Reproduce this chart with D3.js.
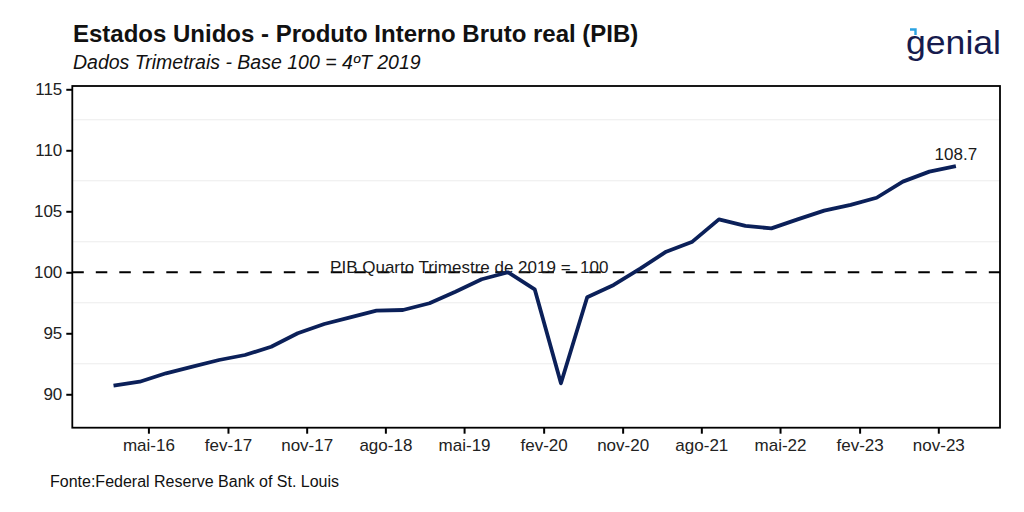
<!DOCTYPE html>
<html>
<head>
<meta charset="utf-8">
<script src="https://cdn.jsdelivr.net/npm/d3@7"></script>
<style>
  html, body { margin: 0; padding: 0; background: #ffffff; }
  svg { display: block; }
  text { font-family: "Liberation Sans", Arial, sans-serif; white-space: pre; }
</style>
</head>
<body>
<svg id="chart" width="1024" height="512"></svg>
<script>
// ---- Data (quarterly, base 100 = Q4 2019) ----
const quarters = [
  "2016-01-01","2016-04-01","2016-07-01","2016-10-01",
  "2017-01-01","2017-04-01","2017-07-01","2017-10-01",
  "2018-01-01","2018-04-01","2018-07-01","2018-10-01",
  "2019-01-01","2019-04-01","2019-07-01","2019-10-01",
  "2020-01-01","2020-04-01","2020-07-01","2020-10-01",
  "2021-01-01","2021-04-01","2021-07-01","2021-10-01",
  "2022-01-01","2022-04-01","2022-07-01","2022-10-01",
  "2023-01-01","2023-04-01","2023-07-01","2023-10-01",
  "2024-01-01"
];
const gdpIndex = [
  90.70, 91.03, 91.72, 92.26,
  92.81, 93.22, 93.90, 95.00,
  95.76, 96.31, 96.85, 96.91,
  97.46, 98.41, 99.43, 100.00,
  98.60, 90.90, 97.95, 98.96,
  100.30, 101.69, 102.51, 104.34,
  103.80, 103.60, 104.34, 105.05,
  105.52, 106.11, 107.43, 108.25,
  108.71
];
const xTickDates = [
  "2016-05-01","2017-02-01","2017-11-01","2018-08-01","2019-05-01","2020-02-01",
  "2020-11-01","2021-08-01","2022-05-01","2023-02-01","2023-11-01"
];
const xTickLabels = [
  "mai-16","fev-17","nov-17","ago-18","mai-19","fev-20",
  "nov-20","ago-21","mai-22","fev-23","nov-23"
];
const yTicks = [90, 95, 100, 105, 110, 115];
const yMinor = [92.5, 97.5, 102.5, 107.5, 112.5];
const referenceValue = 100;
const referenceLabel = "PIB Quarto Trimestre de 2019 =  100";
const lastLabel = "108.7";

// ---- Layout ----
const parse = d3.utcParse("%Y-%m-%d");
const panel = { left: 72.3, right: 1000, top: 86, bottom: 427.7 };
const svg = d3.select("#chart");

const x = d3.scaleUtc()
  .domain([Date.UTC(2015, 7, 11), Date.UTC(2024, 5, 2)])
  .range([panel.left, panel.right]);
const y = d3.scaleLinear()
  .domain([87.26, 115.27])
  .range([panel.bottom, panel.top]);

const data = quarters.map((q, i) => ({ date: parse(q), value: gdpIndex[i] }));

// minor gridlines
svg.append("g").selectAll("line").data(yMinor).join("line")
  .attr("x1", panel.left).attr("x2", panel.right)
  .attr("y1", d => y(d)).attr("y2", d => y(d))
  .attr("stroke", "#ececec").attr("stroke-width", 1);

// reference dashed line
svg.append("line")
  .attr("x1", panel.left).attr("x2", panel.right)
  .attr("y1", y(referenceValue)).attr("y2", y(referenceValue))
  .attr("stroke", "#000").attr("stroke-width", 2)
  .attr("stroke-dasharray", "11.5,12");

// reference annotation
svg.append("text")
  .attr("x", x(Date.UTC(2019, 4, 19)))
  .attr("y", y(referenceValue) + 0.5)
  .attr("text-anchor", "middle")
  .attr("xml:space", "preserve")
  .attr("font-size", 17)
  .attr("fill", "#1a1a1a")
  .text(referenceLabel);

// series line
const line = d3.line().x(d => x(d.date)).y(d => y(d.value));
svg.append("path")
  .datum(data)
  .attr("d", line)
  .attr("fill", "none")
  .attr("stroke", "#0b2059")
  .attr("stroke-width", 3.8)
  .attr("stroke-linejoin", "round");

// last value label
const last = data[data.length - 1];
svg.append("text")
  .attr("x", x(last.date))
  .attr("y", y(last.value) - 6)
  .attr("text-anchor", "middle")
  .attr("font-size", 17)
  .attr("fill", "#1a1a1a")
  .text(lastLabel);

// panel border
svg.append("rect")
  .attr("x", panel.left).attr("y", panel.top)
  .attr("width", panel.right - panel.left).attr("height", panel.bottom - panel.top)
  .attr("fill", "none").attr("stroke", "#000").attr("stroke-width", 1.8);

// x axis
const xAxis = d3.axisBottom(x)
  .tickValues(xTickDates.map(parse))
  .tickFormat((d, i) => xTickLabels[i])
  .tickSize(6).tickPadding(5);
const gx = svg.append("g").attr("transform", `translate(0,${panel.bottom})`).call(xAxis);
gx.select(".domain").remove();
gx.selectAll(".tick line").attr("stroke", "#000").attr("stroke-width", 2);
gx.selectAll(".tick text").attr("font-size", 17).attr("fill", "#222")
  .attr("font-family", "'Liberation Sans', Arial, sans-serif");

// y axis
const yAxis = d3.axisLeft(y).tickValues(yTicks).tickFormat(d3.format("d"))
  .tickSize(6).tickPadding(4);
const gy = svg.append("g").attr("transform", `translate(${panel.left},0)`).call(yAxis);
gy.select(".domain").remove();
gy.selectAll(".tick line").attr("stroke", "#000").attr("stroke-width", 2);
gy.selectAll(".tick text").attr("font-size", 17).attr("fill", "#222")
  .attr("font-family", "'Liberation Sans', Arial, sans-serif");

// titles
svg.append("text")
  .attr("x", 73).attr("y", 42)
  .attr("font-size", 24).attr("font-weight", "bold").attr("fill", "#111")
  .text("Estados Unidos - Produto Interno Bruto real (PIB)");
svg.append("text")
  .attr("x", 73).attr("y", 69)
  .attr("font-size", 19.5).attr("font-style", "italic").attr("fill", "#111")
  .text("Dados Trimetrais - Base 100 = 4ºT 2019");

// source
svg.append("text")
  .attr("x", 50).attr("y", 487)
  .attr("font-size", 16).attr("fill", "#111")
  .text("Fonte:Federal Reserve Bank of St. Louis");

// logo
svg.append("text")
  .attr("x", 906).attr("y", 54)
  .attr("font-family", "Lato, 'Open Sans', sans-serif")
  .attr("font-size", 34).attr("font-weight", 400).attr("fill", "#161b4d")
  .attr("textLength", 95).attr("lengthAdjust", "spacingAndGlyphs")
  .text("genial");
svg.append("path")
  .attr("d", "M910,29.5 L915.5,29.5 L915.5,35")
  .attr("fill", "none").attr("stroke", "#2aa3e2").attr("stroke-width", 2.4);
</script>
</body>
</html>
